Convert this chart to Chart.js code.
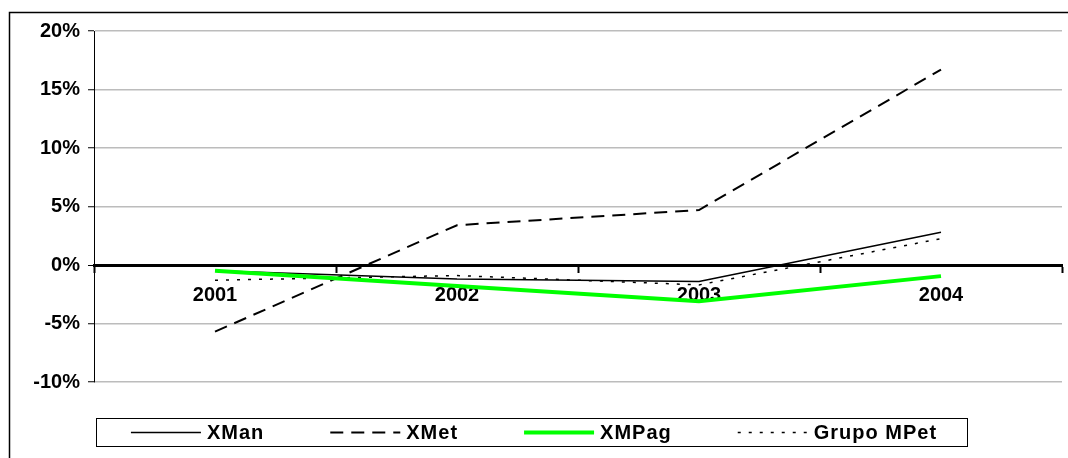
<!DOCTYPE html>
<html>
<head>
<meta charset="utf-8">
<script src="https://cdn.jsdelivr.net/npm/chart.js@4/dist/chart.umd.min.js"></script>
<style>
  body { margin: 0; background: #fff; }
  canvas { display: block; }
</style>
</head>
<body>
<canvas id="myChart" width="1068" height="458"></canvas>
<script>
// categories and series (percent)
const years = ['2001', '2002', '2003', '2004'];
const xMan = [-0.5, -1.2, -1.4, 2.8];
const xMet = [-5.7, 3.4, 4.7, 16.7];
const xmPag = [-0.5, -1.8, -3.1, -0.95];
const grupoMPet = [-1.3, -0.9, -1.7, 2.25];
const yTicks = [-10, -5, 0, 5, 10, 15, 20];

const FAMILY = '"Liberation Sans", Arial, sans-serif';

// outer frame of the chart object
const framePlugin = {
  id: 'frame',
  beforeDraw: function(chart) {
    const ctx = chart.ctx;
    ctx.save();
    ctx.fillStyle = '#fff';
    ctx.fillRect(0, 0, chart.width, chart.height);
    ctx.strokeStyle = '#000';
    ctx.lineWidth = 1.5;
    ctx.strokeRect(9.5, 12.5, chart.width + 20, chart.height + 20);
    ctx.restore();
  },
};

// excel style legend: framed box, line samples
const legendPlugin = {
  id: 'boxLegend',
  afterDraw: function(chart) {
    const ctx = chart.ctx;
    const sets = chart.data.datasets;
    const sample = 70;
    const gap = 6;
    const spacing = 66;
    ctx.save();
    ctx.font = 'bold 20px ' + FAMILY;
    ctx.letterSpacing = '1px';
    const widths = sets.map((ds) => sample + gap + ctx.measureText(ds.label).width);
    const total = widths.reduce((a, b) => a + b, 0) + spacing * (sets.length - 1);
    const center = chart.width / 2;
    const top = 418;
    const bottom = 446;
    const mid = 432.5;
    ctx.strokeStyle = '#000';
    ctx.lineWidth = 1;
    ctx.strokeRect(Math.round(center - total / 2 - 35) + 0.5, top + 0.5,
        Math.round(total + 65), bottom - top);
    var x = center - total / 2;
    sets.forEach((ds, i) => {
      ctx.beginPath();
      ctx.setLineDash(ds.borderDash || []);
      ctx.strokeStyle = ds.borderColor;
      ctx.lineWidth = ds.borderWidth;
      ctx.moveTo(x, mid);
      ctx.lineTo(x + sample, mid);
      ctx.stroke();
      ctx.setLineDash([]);
      ctx.fillStyle = '#000';
      ctx.textBaseline = 'middle';
      ctx.textAlign = 'left';
      ctx.fillText(ds.label, x + sample + gap, mid + 1);
      x += widths[i] + spacing;
    });
    ctx.restore();
  },
};

const data = {
  labels: years,
  datasets: [
    {label: 'XMan', data: xMan, borderColor: '#000', borderWidth: 1.5, order: 1},
    {label: 'XMet', data: xMet, borderColor: '#000', borderWidth: 2, borderDash: [13, 8], order: 1},
    {label: 'XMPag', data: xmPag, borderColor: '#00ff00', borderWidth: 4, order: 0},
    {label: 'Grupo MPet', data: grupoMPet, borderColor: '#000', borderWidth: 1.5, borderDash: [3, 8], order: 1},
  ],
};

const options = {
  responsive: false,
  animation: false,
  layout: {padding: {left: 0, top: 31, right: 6, bottom: 76}},
  elements: {
    point: {radius: 0},
    line: {tension: 0, fill: false},
  },
  plugins: {
    legend: {display: false},
    tooltip: {enabled: false},
  },
  scales: {
    x: {
      type: 'category',
      position: {y: 0},
      offset: true,
      border: {display: true, color: '#000', width: 3},
      grid: {
        display: true,
        offset: true,
        drawOnChartArea: false,
        drawTicks: true,
        tickLength: 6,
        tickColor: '#000',
        tickWidth: 2,
      },
      ticks: {
        color: '#000',
        padding: 12,
        maxRotation: 0,
        font: {family: FAMILY, size: 20, weight: 'bold'},
      },
    },
    y: {
      min: -10,
      max: 20,
      afterFit: function(scale) {
        scale.width = 94;
      },
      afterBuildTicks: function(scale) {
        scale.ticks = yTicks.map((v) => ({value: v}));
      },
      border: {display: true, color: '#000', width: 1},
      grid: {
        color: (c) => (c.tick && c.tick.value === 0 ? '#000' : '#bcbcbc'),
        lineWidth: (c) => (c.tick && c.tick.value === 0 ? 3 : 1.5),
        tickLength: 6,
        tickColor: '#000',
        tickWidth: 1,
      },
      ticks: {
        color: '#000',
        padding: 8,
        callback: (v) => v + '%',
        font: {family: FAMILY, size: 20, weight: 'bold'},
      },
    },
  },
};

new Chart(document.getElementById('myChart'), {
  type: 'line',
  data: data,
  options: options,
  plugins: [framePlugin, legendPlugin],
});
</script>
</body>
</html>
